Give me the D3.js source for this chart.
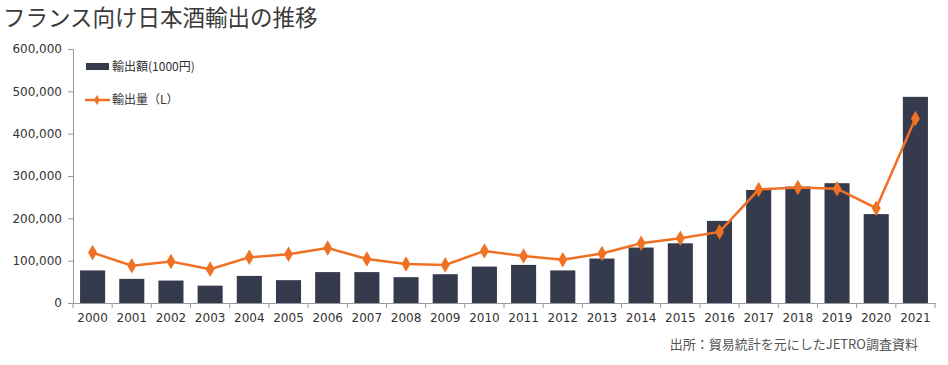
<!DOCTYPE html>
<html>
<head>
<meta charset="utf-8">
<script src="https://cdn.jsdelivr.net/npm/d3@7"></script>
<style>
  body { margin: 0; background: #fff; }
  text { font-family: "Noto Sans CJK JP", "DejaVu Sans", sans-serif; }
</style>
</head>
<body>
<svg id="chart" width="948" height="365"></svg>
<script>
const years = ["2000","2001","2002","2003","2004","2005","2006","2007","2008","2009","2010",
  "2011","2012","2013","2014","2015","2016","2017","2018","2019","2020","2021"];
// export value (1000 yen)
const valueK = [77000, 57000, 53000, 41000, 64000, 54000, 73000, 73000, 61000, 68000, 86000,
  90000, 77000, 105000, 131000, 141000, 194000, 267000, 275000, 283000, 210000, 487000];
// export volume (L)
const volumeL = [119000, 88000, 98000, 80000, 108000, 115000, 130000, 104000, 92000, 90000, 123000,
  111000, 102000, 117000, 141000, 153000, 168000, 268000, 273000, 270000, 224000, 436000];
const yTicks = [0, 100000, 200000, 300000, 400000, 500000, 600000];

const svg = d3.select("#chart");
const mLeft = 73, mRight = 935, mTop = 49, mBottom = 303;

const x = d3.scaleBand().domain(years).range([mLeft, mRight]).paddingInner(0.36).paddingOuter(0.18);
const y = d3.scaleLinear().domain([0, 600000]).range([mBottom, mTop]);

// title
svg.append("text").attr("x", 3).attr("y", 26)
  .attr("font-size", 22.5).attr("fill", "#3a3a3a")
  .text("フランス向け日本酒輸出の推移");

// y axis
const yAxis = svg.append("g").attr("transform", `translate(${mLeft},0)`)
  .call(d3.axisLeft(y).tickValues(yTicks).tickSize(5).tickPadding(6)
    .tickFormat(d3.format(",")));
yAxis.selectAll("text").attr("font-size", 12).attr("fill", "#333")
  .style("font-family", "'DejaVu Sans', sans-serif");
yAxis.selectAll("line, path").attr("stroke", "#999");

// x axis
const xAxis = svg.append("g").attr("transform", `translate(0,${mBottom})`)
  .call(d3.axisBottom(x).tickSize(0).tickPadding(10));
xAxis.selectAll("text").attr("font-size", 12).attr("fill", "#333")
  .style("font-family", "'DejaVu Sans', sans-serif");
xAxis.selectAll("path").attr("stroke", "#999");
// ticks between categories
const cat = (mRight - mLeft) / years.length;
xAxis.selectAll(".sep").data(d3.range(years.length + 1)).enter().append("line")
  .attr("x1", i => mLeft + i * cat)
  .attr("x2", i => mLeft + i * cat)
  .attr("y1", 0).attr("y2", 5).attr("stroke", "#999");

// bars
svg.append("g").selectAll("rect").data(valueK).enter().append("rect")
  .attr("x", (d, i) => x(years[i]))
  .attr("y", d => y(d))
  .attr("width", x.bandwidth())
  .attr("height", d => mBottom - y(d))
  .attr("fill", "#363a4d");

// line
const cx = i => x(years[i]) + x.bandwidth() / 2;
svg.append("path").datum(volumeL)
  .attr("fill", "none").attr("stroke", "#f07123").attr("stroke-width", 2.5)
  .attr("d", d3.line().x((d, i) => cx(i)).y(d => y(d)));
const diamond = d3.symbol().type(d3.symbolDiamond).size(70);
svg.append("g").selectAll("path").data(volumeL).enter().append("path")
  .attr("d", diamond)
  .attr("transform", (d, i) => `translate(${cx(i)},${y(d)})`)
  .attr("fill", "#f07123");

// legend
const lg = svg.append("g");
lg.append("rect").attr("x", 86).attr("y", 63).attr("width", 23).attr("height", 7).attr("fill", "#363a4d");
lg.append("text").attr("x", 112).attr("y", 71).attr("font-size", 12).attr("fill", "#333").text("輸出額(1000円)");
lg.append("line").attr("x1", 85).attr("x2", 110).attr("y1", 100).attr("y2", 100)
  .attr("stroke", "#f07123").attr("stroke-width", 2.5);
lg.append("path").attr("d", d3.symbol().type(d3.symbolDiamond).size(30))
  .attr("transform", "translate(97,100)").attr("fill", "#f07123");
lg.append("text").attr("x", 112).attr("y", 104).attr("font-size", 12).attr("fill", "#333").text("輸出量（L）");

// source
svg.append("text").attr("x", 918).attr("y", 349).attr("text-anchor", "end")
  .attr("font-size", 13).attr("fill", "#555")
  .text("出所：貿易統計を元にしたJETRO調査資料");
</script>
</body>
</html>
